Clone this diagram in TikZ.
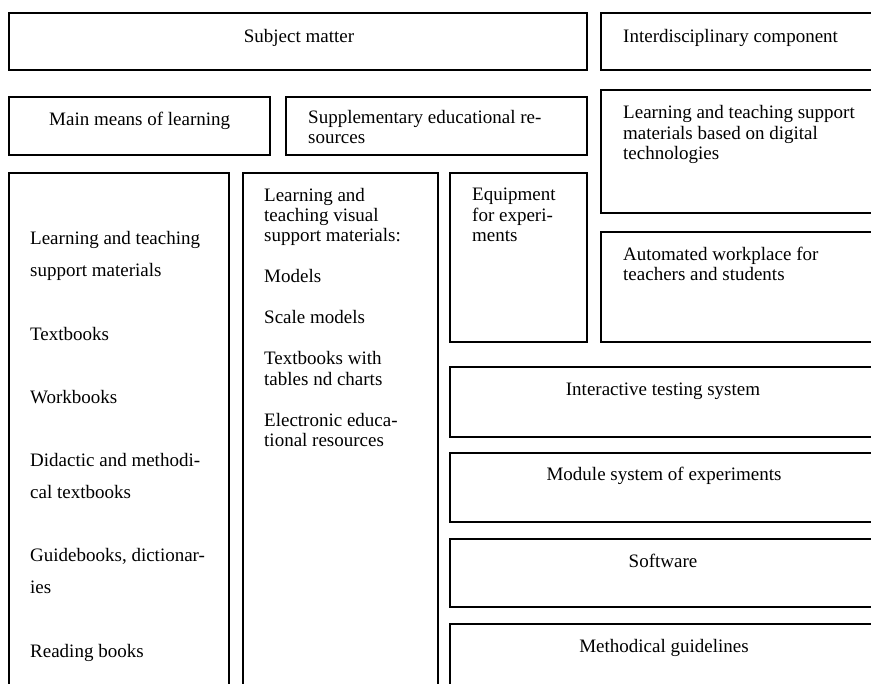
\documentclass[tikz,border=0pt]{standalone}
\usepackage{fontspec}
\setmainfont{Liberation Serif}
\usepackage{tikz}

\tikzset{
  box/.style={draw, line width=2pt},
  lbl/.style={inner sep=0pt, align=left, font=\fontsize{19}{20.5}\selectfont},
  widelbl/.style={inner sep=0pt, align=left, font=\fontsize{19}{31.7}\selectfont}
}

\begin{document}
\begin{tikzpicture}[x=1pt, y=-1pt]
  \useasboundingbox (0,0) rectangle (871,684);
  \clip (0,0) rectangle (871,684);
  % top row
  \draw[box] (9,13) rectangle (587,70);
  \draw[box] (601,13) rectangle (880,70);
  \node[lbl, anchor=base] (subject) at (299,43) {Subject matter};
  \node[lbl, anchor=base west] (inter) at (623,43) {Interdisciplinary component};
  % second row (anchor base = last line)
  \draw[box] (9,97) rectangle (270,155);
  \draw[box] (286,97) rectangle (587,155);
  \draw[box] (601,90) rectangle (880,213);
  \node[lbl, anchor=base west] (mainmeans) at (49,126) {Main means of learning};
  \node[lbl, anchor=base west] (suppl) at (308,144) {Supplementary educational re-\\sources};
  \node[lbl, anchor=base west] (digital) at (623,160) {Learning and teaching support\\materials based on digital\\technologies};
  % columns
  \draw[box] (9,173) rectangle (229,700);
  \draw[box] (243,173) rectangle (438,700);
  \draw[box] (450,173) rectangle (587,342);
  \draw[box] (601,232) rectangle (880,342);
  \node[widelbl, anchor=base west] (mainlist) at (30,657)
    {Learning and teaching\\support materials\\[31.7pt]Textbooks\\[31.7pt]Workbooks\\[31.7pt]Didactic and methodi-\\cal textbooks\\[31.7pt]Guidebooks, dictionar-\\ies\\[31.7pt]Reading books};
  \node[lbl, anchor=base west] (visual) at (264,447)
    {Learning and\\teaching visual\\support materials:\\[20.5pt]Models\\[20.5pt]Scale models\\[20.5pt]Textbooks with\\tables nd charts\\[20.5pt]Electronic educa-\\tional resources};
  \node[lbl, anchor=base west] (equip) at (472,242) {Equipment\\for experi-\\ments};
  \node[lbl, anchor=base west] (workplace) at (623,281) {Automated workplace for\\teachers and students};
  % wide boxes on the right
  \draw[box] (450,367) rectangle (880,437);
  \draw[box] (450,453) rectangle (880,522);
  \draw[box] (450,539) rectangle (880,607);
  \draw[box] (450,624) rectangle (880,700);
  \node[lbl, anchor=base] (testing) at (663,396) {Interactive testing system};
  \node[lbl, anchor=base] (module) at (664,481) {Module system of experiments};
  \node[lbl, anchor=base] (software) at (663,568) {Software};
  \node[lbl, anchor=base] (guide) at (664,652) {Methodical guidelines};
\end{tikzpicture}
\end{document}
